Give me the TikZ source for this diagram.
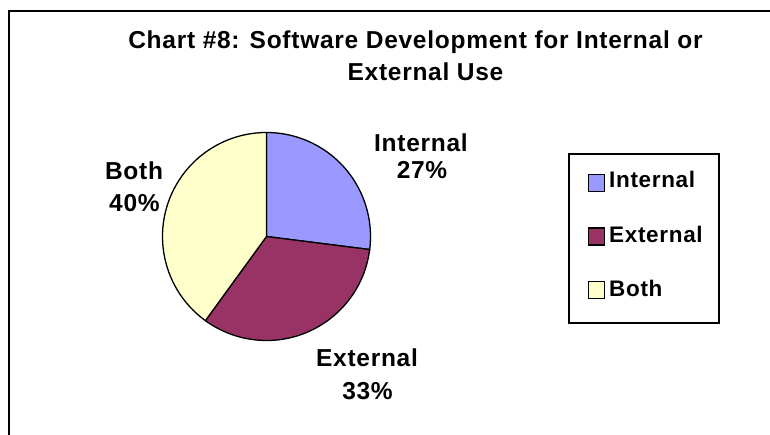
\documentclass[tikz,border=0pt]{standalone}
\usepackage{fontspec}
\setmainfont{Liberation Sans}[LetterSpace=3]
\usetikzlibrary{positioning}
\definecolor{internalcol}{HTML}{9999FF}
\definecolor{externalcol}{HTML}{993366}
\definecolor{bothcol}{HTML}{FFFFCC}

\begin{document}
\begin{tikzpicture}[x=1pt,y=1pt,
		title node/.style={font=\bfseries\fontsize{24.5}{28}\selectfont,anchor=base,inner sep=0pt},
		text node/.style={font=\bfseries\fontsize{24.5}{28}\selectfont,anchor=base,inner sep=0pt},
		legend node/.style={font=\bfseries\fontsize{22.5}{26}\selectfont,anchor=base west,inner sep=0pt},
		swatch node/.style={rectangle,draw,line width=1.3pt,minimum width=16pt,minimum height=17pt,inner sep=0pt},
		slice/.style={draw,line width=1.3pt}]
		
		\useasboundingbox (0,0) rectangle (770,434);
		\draw[line width=1.5pt] (9,-10) -- (9,423) -- (780,423);
		
		% title
		\node[title node] (t1) at (415.5,385) {Chart \#8: Software Development for Internal or};
		\node[title node] (t2) at (425.5,353) {External Use};
		
		% pie
		\coordinate (c) at (266.5,197.5);
		\path[slice,fill=internalcol] (c) -- ++(90:104) arc[start angle=90,end angle=-7.2,radius=104] -- cycle;
		\path[slice,fill=externalcol] (c) -- ++(-7.2:104) arc[start angle=-7.2,end angle=-126,radius=104] -- cycle;
		\path[slice,fill=bothcol] (c) -- ++(-126:104) arc[start angle=-126,end angle=-270,radius=104] -- cycle;
		
		\node[text node] (int) at (421,282.3) {Internal};
		\node[text node] (intp) at (422,255.5) {27\%};
		\node[text node] (both) at (134,254) {Both};
		\node[text node] (bothp) at (134.5,222) {40\%};
		\node[text node] (ext) at (367,67.3) {External};
		\node[text node] (extp) at (367.5,34.7) {33\%};
		
		% legend
		\node[draw,line width=1.5pt,minimum width=150pt,minimum height=168.7pt,inner sep=0pt] (legend) at (644,195.6) {};
		\node[swatch node,fill=internalcol] (s1) at (596.7,251.3) {};
		\node[swatch node,fill=externalcol] (s2) at (596.7,197.6) {};
		\node[swatch node,fill=bothcol] (s3) at (596.7,144) {};
		\node[legend node] (l1) at (609,246) {Internal};
		\node[legend node] (l2) at (609,191.3) {External};
		\node[legend node] (l3) at (609,138) {Both};
		
\end{tikzpicture}
\end{document}
